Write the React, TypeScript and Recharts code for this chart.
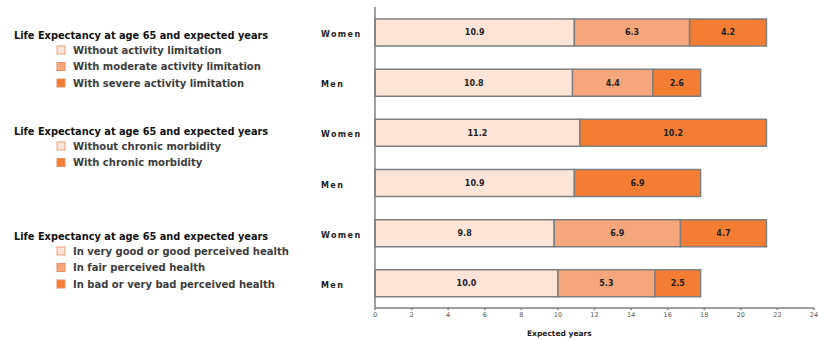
import { Bar, BarChart, LabelList, XAxis, YAxis } from "recharts";

// Life expectancy at 65, split into expected years by health state
const categories = ["Women", "Men", "Women", "Men", "Women", "Men"];
const healthyYears = [10.9, 10.8, 11.2, 10.9, 9.8, 10.0];
const moderateYears = [6.3, 4.4, null, null, 6.9, 5.3];
const severeYears = [4.2, 2.6, 10.2, 6.9, 4.7, 2.5];
const xTicks = [0, 2, 4, 6, 8, 10, 12, 14, 16, 18, 20, 22, 24];

const legendTitle = "Life Expectancy at age 65 and expected years";
const activityItems = [
  "Without activity limitation",
  "With moderate activity limitation",
  "With severe activity limitation",
];
const morbidityItems = ["Without chronic morbidity", "With chronic morbidity"];
const healthItems = [
  "In very good or good perceived health",
  "In fair perceived health",
  "In bad or very bad perceived health",
];

const LIGHT = "#FCE4D6";
const MID = "#F6A67C";
const DARK = "#F37D33";
const EDGE = "#7F7F7F";
const FONT = "'DejaVu Sans', Verdana, sans-serif";

const data = categories.map((sex, i) => ({
  key: `row${i}`,
  sex,
  healthy: healthyYears[i],
  moderate: moderateYears[i],
  severe: severeYears[i],
}));

const legendGroups = [
  { top: 35, items: activityItems, fills: [LIGHT, MID, DARK] },
  { top: 131, items: morbidityItems, fills: [LIGHT, DARK] },
  { top: 236, items: healthItems, fills: [LIGHT, MID, DARK] },
];

const fmt = (v: unknown) => (typeof v === "number" ? v.toFixed(1) : "");

function SexTick(props: any) {
  const { y, payload } = props;
  const row = data.find((d) => d.key === payload.value);
  return (
    <text
      x={321}
      y={y}
      dy={5}
      textAnchor="start"
      fontFamily={FONT}
      fontWeight="bold"
      fontSize={8}
      letterSpacing={1.4}
      fill="#222"
    >
      {row ? row.sex : ""}
    </text>
  );
}

function Legends() {
  return (
    <svg
      width={310}
      height={340}
      style={{ position: "absolute", left: 0, top: 0 }}
      fontFamily={FONT}
    >
      {legendGroups.map((g, gi) => (
        <g key={gi}>
          <text
            x={14}
            y={g.top + 3.5}
            fontSize={9.8}
            fontWeight="bold"
            fill="#111"
          >
            {legendTitle}
          </text>
          {g.items.map((label, i) => {
            const cy = g.top + 15 + i * 16.5;
            return (
              <g key={label}>
                <rect
                  x={57}
                  y={cy - 4}
                  width={8}
                  height={8}
                  fill={g.fills[i]}
                  stroke={i === 0 ? "#E9A27A" : "#E59060"}
                  strokeWidth={1}
                />
                <text
                  x={73}
                  y={cy + 3.5}
                  fontSize={10}
                  fontWeight="bold"
                  fill="#3c3c3c"
                >
                  {label}
                </text>
              </g>
            );
          })}
        </g>
      ))}
    </svg>
  );
}

export default function App() {
  return (
    <div
      style={{
        position: "absolute",
        left: 0,
        top: 0,
        width: 818,
        height: 340,
        background: "#fff",
      }}
    >
      <Legends />
      <BarChart
        width={818}
        height={340}
        data={data}
        layout="vertical"
        margin={{ top: 7, right: 4, left: 0, bottom: 0 }}
        barSize={27}
      >
        <XAxis
          type="number"
          domain={[0, 24]}
          ticks={xTicks}
          interval={0}
          height={32}
          stroke={EDGE}
          strokeWidth={1.5}
          tickSize={2}
          tick={{ fontSize: 6.5, fill: "#555", fontFamily: FONT }}
        />
        <YAxis
          type="category"
          dataKey="key"
          width={375}
          stroke={EDGE}
          strokeWidth={1.5}
          tickLine={false}
          tick={<SexTick />}
        />
        <Bar
          dataKey="healthy"
          stackId="a"
          fill={LIGHT}
          stroke={EDGE}
          strokeWidth={1.5}
          isAnimationActive={false}
        >
          <LabelList
            dataKey="healthy"
            position="center"
            formatter={fmt}
            style={{ fontSize: 8, fontWeight: "bold", fill: "#222", fontFamily: FONT }}
          />
        </Bar>
        <Bar
          dataKey="moderate"
          stackId="a"
          fill={MID}
          stroke={EDGE}
          strokeWidth={1.5}
          isAnimationActive={false}
        >
          <LabelList
            dataKey="moderate"
            position="center"
            formatter={fmt}
            style={{ fontSize: 8, fontWeight: "bold", fill: "#222", fontFamily: FONT }}
          />
        </Bar>
        <Bar
          dataKey="severe"
          stackId="a"
          fill={DARK}
          stroke={EDGE}
          strokeWidth={1.5}
          isAnimationActive={false}
        >
          <LabelList
            dataKey="severe"
            position="center"
            formatter={fmt}
            style={{ fontSize: 8, fontWeight: "bold", fill: "#222", fontFamily: FONT }}
          />
        </Bar>
      </BarChart>
      <div
        style={{
          position: "absolute",
          left: 527,
          top: 329,
          fontFamily: FONT,
          fontSize: 7.5,
          fontWeight: "bold",
          color: "#222",
          whiteSpace: "nowrap",
        }}
      >
        Expected years
      </div>
    </div>
  );
}
